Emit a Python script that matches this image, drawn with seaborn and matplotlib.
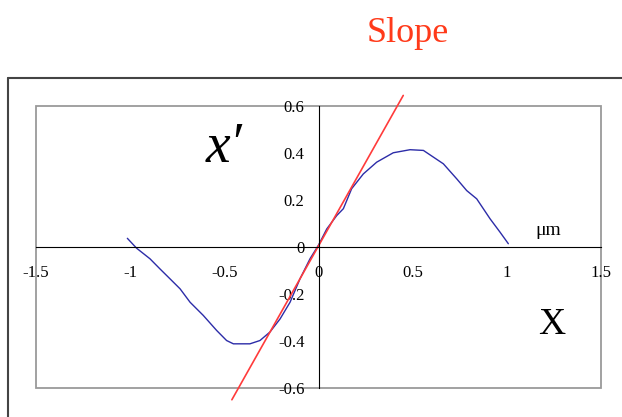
import matplotlib
matplotlib.use("Agg")
import matplotlib.pyplot as plt
import pandas as pd
import seaborn as sns
from matplotlib.lines import Line2D
from matplotlib.patches import Rectangle

# values
pos_x = [-1.015, -0.966, -0.895, -0.842, -0.789, -0.735, -0.682, -0.612, -0.541,
         -0.488, -0.452, -0.364, -0.311, -0.258, -0.204, -0.151, -0.098, -0.045,
         0.0, 0.044, 0.097, 0.132, 0.176, 0.238, 0.309, 0.397, 0.486, 0.557,
         0.663, 0.734, 0.787, 0.840, 0.911, 0.964, 1.008]
vel_y = [0.037, -0.005, -0.050, -0.093, -0.135, -0.178, -0.235, -0.291, -0.355,
         -0.398, -0.412, -0.412, -0.398, -0.362, -0.306, -0.235, -0.135, -0.050,
         0.008, 0.077, 0.134, 0.163, 0.248, 0.311, 0.361, 0.401, 0.414, 0.411,
         0.354, 0.290, 0.240, 0.205, 0.120, 0.063, 0.014]
slope_x = [-0.46, 0.45]
slope_y = [-0.65, 0.645]
xticks = [-1.5, -1, -0.5, 0, 0.5, 1, 1.5]
yticks = [-0.6, -0.4, -0.2, 0, 0.2, 0.4, 0.6]

sns.set_style("white")
plt.rcParams['font.family'] = ['Liberation Serif', 'DejaVu Serif']
plt.rcParams['text.color'] = 'black'
plt.rcParams['xtick.color'] = 'black'
plt.rcParams['ytick.color'] = 'black'

fig = plt.figure(figsize=(6.22, 4.17), dpi=100)
ax = fig.add_axes([36 / 622, 29 / 417, 565 / 622, 282 / 417])

df = pd.DataFrame({'x': pos_x, 'v': vel_y})
sns.lineplot(data=df, x='x', y='v', ax=ax, color='#2c2ca8', lw=1.0, sort=False)
sns.lineplot(x=slope_x, y=slope_y, ax=ax, color='#ff3b3b', lw=1.2, clip_on=False)

ax.set_xlim(-1.5, 1.5)
ax.set_ylim(-0.6, 0.6)
ax.set_xlabel('')
ax.set_ylabel('')

# axes through the origin, grey box around the plot area
for s in ['top', 'right']:
    ax.spines[s].set_visible(False)
ax.spines['left'].set_position(('data', 0))
ax.spines['bottom'].set_position(('data', 0))
ax.spines['left'].set_color('black')
ax.spines['bottom'].set_color('black')
ax.add_patch(Rectangle((0, 0), 1, 1, transform=ax.transAxes, fill=False,
                       edgecolor='#9a9a9a', lw=1.3, clip_on=False, zorder=0))

ax.set_xticks(xticks)
ax.set_xticklabels(['-1.5', '-1', '-0.5', '0', '0.5', '1', '1.5'])
ax.set_yticks(yticks)
ax.set_yticklabels(['-0.6', '-0.4', '-0.2', '0', '0.2', '0.4', '0.6'])
ax.tick_params(axis='x', direction='in', length=4, width=1, pad=13, labelsize=12,
               colors='black')
ax.tick_params(axis='y', direction='in', length=4, width=1, pad=10, labelsize=12,
               colors='black')

ax.text(-0.50, 0.42, 'x\u2032', fontsize=40, style='italic', ha='center', va='center',
        color='black')
ax.text(1.24, -0.33, 'X', fontsize=27, ha='center', va='center', color='black')
ax.text(1.22, 0.07, '\u03bcm', fontsize=14, ha='center', va='center', color='black')

fig.text(408 / 622, 1 - 34 / 417, 'Slope', color='#ff3a1a', fontsize=26,
         ha='center', va='center')

# outer slide frame
fig.add_artist(Line2D([8 / 622, 8 / 622], [0, 1 - 78 / 417], transform=fig.transFigure,
                      color='#444444', lw=1.5))
fig.add_artist(Line2D([8 / 622, 1], [1 - 78 / 417, 1 - 78 / 417], transform=fig.transFigure,
                      color='#444444', lw=1.5))

fig.savefig('out.png', dpi=100)
